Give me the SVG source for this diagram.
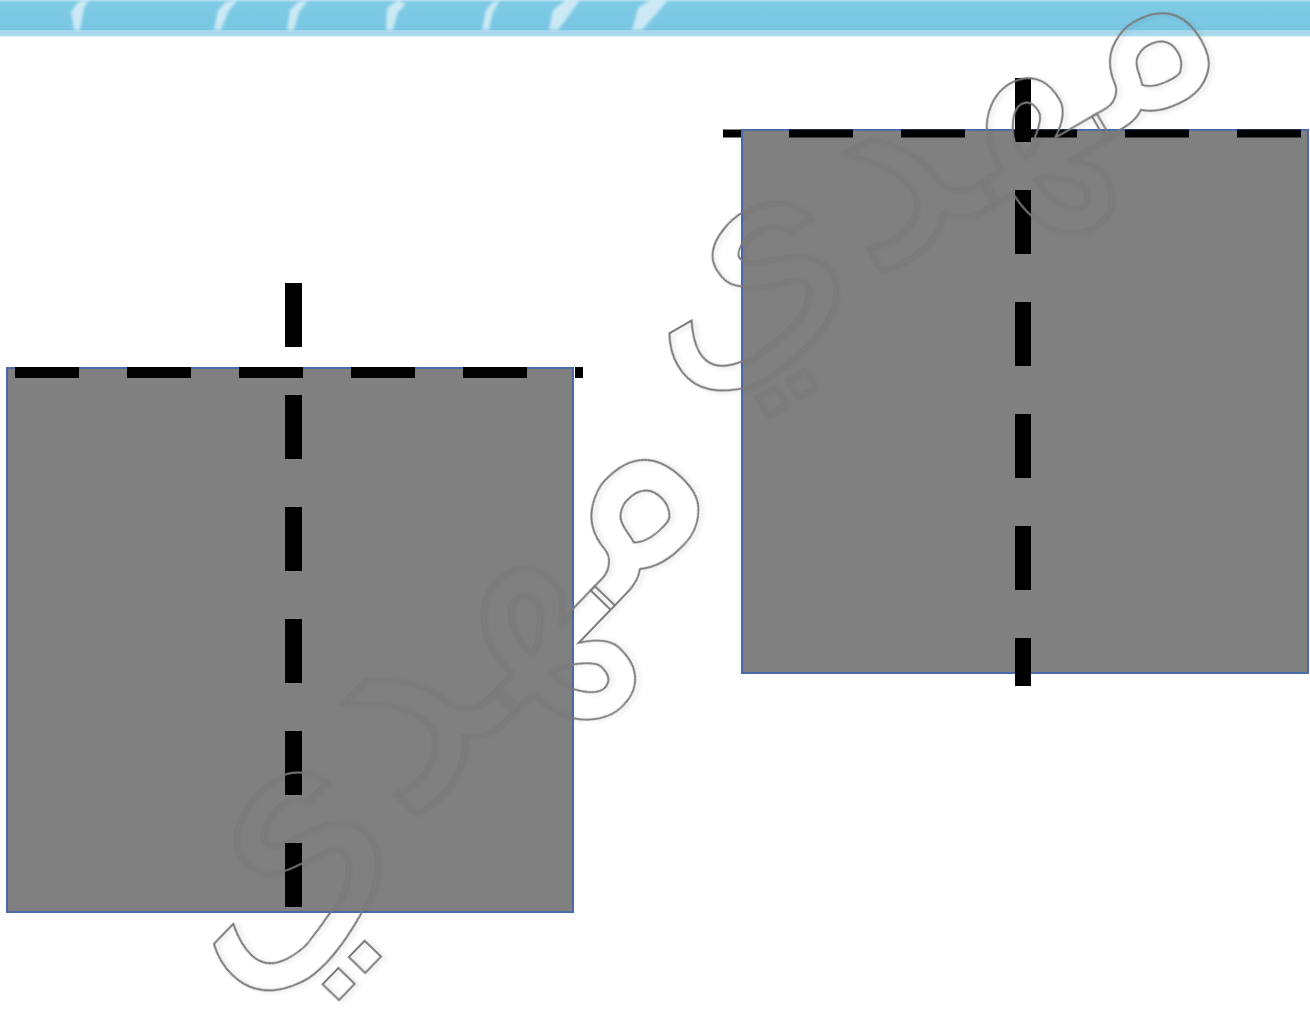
<svg xmlns="http://www.w3.org/2000/svg" width="1310" height="1011" viewBox="0 0 1310 1011">
  <style>
    .sq { fill: #808080; stroke: #4a6aaa; stroke-width: 2; }
    .dash { stroke: #000; fill: none; stroke-dasharray: 64 48; }
    .deco { fill: #ffffff; opacity: 0.6; filter: url(#soft); }
    .wm { font-family: "DejaVu Sans", sans-serif; fill: none; stroke: #7a7a7a; stroke-width: 2; filter: url(#glow); }
  </style>
  <defs>
    <linearGradient id="band" x1="0" y1="0" x2="0" y2="1">
      <stop offset="0" stop-color="#bfe3f1"/>
      <stop offset="0.06" stop-color="#7fcbe6"/>
      <stop offset="0.8" stop-color="#78c6e3"/>
      <stop offset="0.83" stop-color="#a9d9ec"/>
      <stop offset="0.95" stop-color="#a9d9ec"/>
      <stop offset="1" stop-color="#eef8fc"/>
    </linearGradient>
    <filter id="glow" x="-20%" y="-20%" width="140%" height="140%">
      <feDropShadow dx="2" dy="3" stdDeviation="2" flood-color="#000" flood-opacity="0.12"/>
    </filter>
    <filter id="soft" x="-30%" y="-30%" width="160%" height="160%">
      <feGaussianBlur stdDeviation="1.5"/>
    </filter>
  </defs>
  <rect width="1310" height="1011" fill="#ffffff"/>

  <g id="banner">
    <rect x="0" y="0" width="1310" height="37" fill="url(#band)"/>
    <path class="deco" d="M74,30 L71,12 L78,2 L89,0 L84,8 L80,30 Z"/>
    <path class="deco" d="M214,30 L218,10 L226,2 L237,0 L228,12 L221,30 Z"/>
    <path class="deco" d="M287,30 L290,10 L298,2 L308,0 L299,12 L294,30 Z"/>
    <path class="deco" d="M386,30 L387,8 L398,0 L406,4 L398,12 L393,30 Z"/>
    <path class="deco" d="M482,30 L486,10 L493,2 L500,0 L493,12 L489,30 Z"/>
    <path class="deco" d="M549,30 L553,10 L566,0 L580,0 L570,14 L558,30 Z"/>
    <path class="deco" d="M632,30 L638,8 L650,0 L668,0 L656,14 L642,30 Z"/>
  </g>

  <g id="left-square">
    <rect class="sq" x="7" y="368" width="566" height="544"/>
  </g>
  <g id="right-square">
    <rect class="sq" x="742" y="130" width="566" height="543"/>
  </g>

  <g id="connectors">
    <line class="dash" x1="15" y1="372.5" x2="583" y2="372.5" stroke-width="11"/>
    <line class="dash" x1="293.5" y1="283" x2="293.5" y2="907" stroke-width="17"/>
    <line class="dash" x1="723" y1="133.5" x2="1310" y2="133.5" stroke-width="8" stroke-dashoffset="46"/>
    <line class="dash" x1="1023" y1="78" x2="1023" y2="686" stroke-width="16"/>
  </g>

  <g id="watermark-1">
    <text class="wm" x="0" y="0" font-size="310" text-anchor="middle" transform="translate(480,745) rotate(-46)">مهدي</text>
  </g>
  <g id="watermark-2">
    <text class="wm" x="0" y="0" font-size="285" text-anchor="middle" transform="translate(955,225) rotate(-30)">مهدي</text>
  </g>
</svg>
